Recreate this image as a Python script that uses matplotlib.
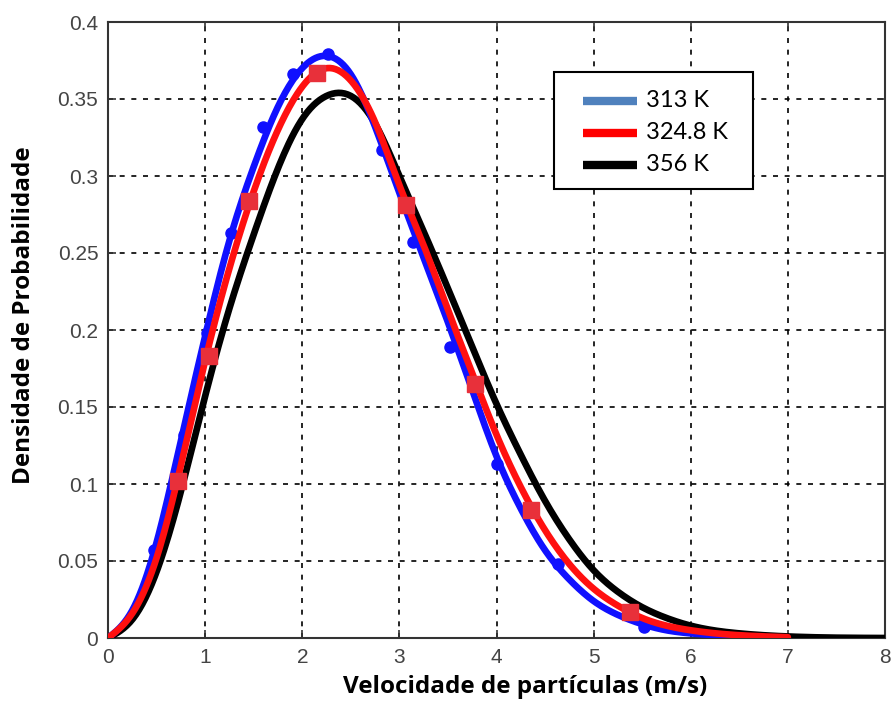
import matplotlib
matplotlib.use("Agg")
import matplotlib.pyplot as plt
from matplotlib.patches import Rectangle
import numpy as np

# Velocity grid (m/s) and probability density for each temperature
velocity = [0, 0.25, 0.5, 0.75, 1.0, 1.25, 1.5, 1.75, 2.0, 2.25, 2.5, 2.75,
            3.0, 3.25, 3.5, 3.75, 4.0, 4.25, 4.5, 4.75, 5.0, 5.25, 5.5,
            5.75, 6.0, 6.5, 7.0, 8.0]

density_313 = [0, 0.018, 0.062, 0.128, 0.196, 0.258, 0.306, 0.345, 0.370,
               0.378, 0.366, 0.332, 0.289, 0.247, 0.205, 0.161, 0.118,
               0.084, 0.057, 0.038, 0.024, 0.015, 0.009, 0.005, 0.003,
               0.001, 0.0003, 0.0]

density_3248 = [0, 0.016, 0.052, 0.112, 0.180, 0.240, 0.290, 0.330, 0.358,
                0.370, 0.362, 0.335, 0.294, 0.255, 0.213, 0.172, 0.132,
                0.098, 0.070, 0.048, 0.032, 0.021, 0.013, 0.008, 0.005,
                0.0018, 0.0005, 0.0]

density_356 = [0, 0.012, 0.043, 0.095, 0.157, 0.214, 0.262, 0.305, 0.337,
               0.352, 0.352, 0.334, 0.300, 0.264, 0.227, 0.189, 0.152,
               0.119, 0.089, 0.064, 0.044, 0.030, 0.020, 0.013, 0.008,
               0.003, 0.001, 0.0]

# Measured points
pts_313_v = [0.47, 0.78, 1.02, 1.27, 1.60, 1.90, 2.27, 2.82, 3.14, 3.52,
             4.00, 4.63, 5.52]
pts_313_d = [0.057, 0.132, 0.198, 0.263, 0.332, 0.366, 0.379, 0.317, 0.257,
             0.189, 0.113, 0.048, 0.007]

pts_3248_v = [0.72, 1.04, 1.45, 2.15, 3.07, 3.78, 4.36, 5.37]
pts_3248_d = [0.102, 0.183, 0.284, 0.367, 0.281, 0.165, 0.083, 0.017]

labels = ["313 K", "324.8 K", "356 K"]
legend_colors = ["#4f81bd", "#ff0000", "black"]

x_ticks = [0, 1, 2, 3, 4, 5, 6, 7, 8]
y_ticks = [0, 0.05, 0.1, 0.15, 0.2, 0.25, 0.3, 0.35, 0.4]
y_ticklabels = ["0", "0.05", "0.1", "0.15", "0.2", "0.25", "0.3", "0.35", "0.4"]


def spline(x, y, n=500):
    """Natural cubic spline through the tabulated points."""
    x = np.asarray(x, float)
    y = np.asarray(y, float)
    k = len(x)
    h = np.diff(x)
    A = np.zeros((k, k))
    b = np.zeros(k)
    A[0, 0] = A[-1, -1] = 1.0
    for i in range(1, k - 1):
        A[i, i - 1] = h[i - 1]
        A[i, i] = 2 * (h[i - 1] + h[i])
        A[i, i + 1] = h[i]
        b[i] = 6 * ((y[i + 1] - y[i]) / h[i] - (y[i] - y[i - 1]) / h[i - 1])
    M = np.linalg.solve(A, b)
    xs = np.linspace(x[0], x[-1], n)
    idx = np.clip(np.searchsorted(x, xs) - 1, 0, k - 2)
    t0 = x[idx + 1] - xs
    t1 = xs - x[idx]
    hi = h[idx]
    ys = (M[idx] * t0**3 + M[idx + 1] * t1**3) / (6 * hi) \
        + (y[idx] / hi - M[idx] * hi / 6) * t0 \
        + (y[idx + 1] / hi - M[idx + 1] * hi / 6) * t1
    return xs, np.clip(ys, 0, None)


fig = plt.figure(figsize=(8.91, 7.06), dpi=100)
ax = fig.add_axes([108 / 891, 68 / 706, 777 / 891, 616 / 706])

xb, yb = spline(velocity, density_356)
xr, yr = spline(velocity[:-1], density_3248[:-1])
xu, yu = spline(velocity[:-2], density_313[:-2])

ax.plot(xb, yb, color="black", lw=4.8, zorder=3, solid_capstyle="round")
ax.plot(xu, yu, color="#1010ff", lw=4.8, zorder=4, solid_capstyle="round")
ax.plot(pts_313_v, pts_313_d, "o", color="#1010ff", ms=8, zorder=4)
ax.plot(xr, yr, color="#ff1010", lw=4.8, zorder=5, solid_capstyle="round")
ax.plot(pts_3248_v, pts_3248_d, "s", color="#e8303a", ms=11, zorder=6)

ax.set_xlim(0, 8)
ax.set_ylim(0, 0.4)
ax.set_xticks(x_ticks)
ax.set_yticks(y_ticks)
ax.set_yticklabels(y_ticklabels)
ax.tick_params(direction="in", length=6, width=1.2, colors="#333333",
               labelsize=15, top=True, right=True)
for lab in ax.get_xticklabels() + ax.get_yticklabels():
    lab.set_family("Liberation Sans")
    lab.set_color("#444444")
ax.tick_params(axis="x", pad=7)
ax.tick_params(axis="y", pad=7)

ax.grid(True, color="black", linestyle=(0, (3, 4)), linewidth=1.2)
ax.set_axisbelow(True)
for s in ax.spines.values():
    s.set_color("#333333")
    s.set_linewidth(1.5)

ax.set_xlabel("Velocidade de partículas (m/s)", fontsize=17.5, fontweight="bold",
              family="Open Sans")
ax.set_ylabel("Densidade de Probabilidade", fontsize=17.5, fontweight="bold",
              family="Open Sans")
ax.xaxis.set_label_coords(0.537, -0.060)
ax.yaxis.set_label_coords(-0.093, 0.524)

# Legend box drawn in axes coordinates
ax.add_patch(Rectangle((0.574, 0.729), 0.256, 0.190, transform=ax.transAxes,
                       facecolor="white", edgecolor="black", lw=1.5, zorder=10))
row_y = [0.872, 0.820, 0.768]
for lab, col, yy in zip(labels, legend_colors, row_y):
    ax.plot([0.611, 0.681], [yy, yy], color=col, lw=6, transform=ax.transAxes,
            zorder=11, solid_capstyle="butt")
    ax.text(0.693, yy, lab, transform=ax.transAxes, fontsize=17,
            family="Lato", va="center", ha="left", zorder=11)

fig.savefig("out.png", dpi=100, facecolor="white")
